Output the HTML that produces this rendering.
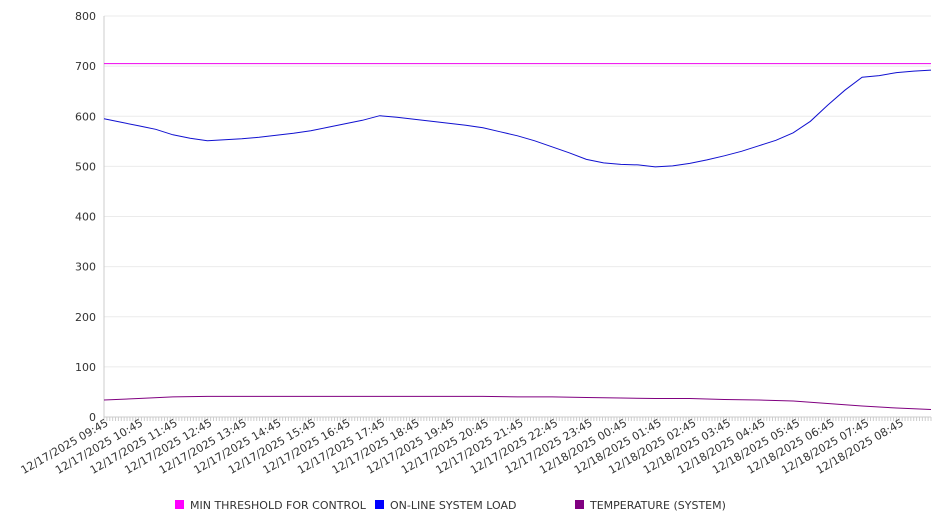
<!DOCTYPE html>
<html><head><meta charset="utf-8"><style>
body{margin:0;background:#fff;}
svg{display:block;font-family:"DejaVu Sans","Liberation Sans",sans-serif;}
</style></head><body>
<svg id="chart" width="946" height="526" xmlns="http://www.w3.org/2000/svg"></svg>
<script>
const hourLabels=["12/17/2025 09:45","12/17/2025 10:45","12/17/2025 11:45","12/17/2025 12:45","12/17/2025 13:45","12/17/2025 14:45","12/17/2025 15:45","12/17/2025 16:45","12/17/2025 17:45","12/17/2025 18:45","12/17/2025 19:45","12/17/2025 20:45","12/17/2025 21:45","12/17/2025 22:45","12/17/2025 23:45","12/18/2025 00:45","12/18/2025 01:45","12/18/2025 02:45","12/18/2025 03:45","12/18/2025 04:45","12/18/2025 05:45","12/18/2025 06:45","12/18/2025 07:45","12/18/2025 08:45"];
const yTicks=[0,100,200,300,400,500,600,700,800];
// load every 30 min
const loadValues=[595,588,581,574,563,556,551,553,555,558,562,566,571,578,585,592,601,598,594,590,586,582,577,569,561,551,539,527,514,507,504,503,499,501,506,513,521,530,541,552,567,590,622,652,678,681,687,690,692];
// temperature hourly
const tempValues=[34,37,40,41,41,41,41,41,41,41,41,41,40,40,39,38,37,37,35,34,32,27,22,18,15];
const thresholdValue=705;

const svg=document.getElementById('chart');
const NS='http://www.w3.org/2000/svg';
const X0=104,X1=931,Y0=417,Y1=16,N=287;
function x5(i){return X0+i*(X1-X0)/N;}
function yS(v){return Y0-(v/800)*(Y0-Y1);}
function mk(tag,attrs){const e=document.createElementNS(NS,tag);for(const k in attrs)e.setAttribute(k,attrs[k]);svg.appendChild(e);return e;}

yTicks.forEach(t=>{
  const g=mk('line',{x1:X0,x2:X1,y1:yS(t),y2:yS(t),stroke:t===0?'#ccc':'#ebebeb','stroke-width':1});
  
  
  const tx=mk('text',{x:96,y:yS(t)+4,'text-anchor':'end','font-size':11,fill:'#333'});
  tx.textContent=t;
  
  
});
const ax=mk('line',{x1:X0,x2:X0,y1:Y1,y2:Y0+4,stroke:'#ccc'});


for(let i=0;i<=N;i++){
  const t=mk('line',{x1:x5(i),x2:x5(i),y1:Y0,y2:Y0+4,stroke:'#ccc'});
  
  
}
hourLabels.forEach((l,i)=>{
  const x=x5(i*12)+5,y=Y0+8;
  const t=mk('text',{x:x,y:y,'text-anchor':'end','font-size':11,fill:'#333',transform:`rotate(-30 ${x} ${y})`});
  t.textContent=l;
  
  
});
function line(vals,color,name){
  const step=N/(vals.length-1);
  const pts=vals.map((v,i)=>x5(i*step).toFixed(1)+','+yS(v).toFixed(1)).join(' ');
  const p=mk('polyline',{points:pts,fill:'none',stroke:color,'stroke-width':1});
  
  
}
const th=mk('line',{x1:X0,x2:X1,y1:yS(thresholdValue),y2:yS(thresholdValue),stroke:'#ee00ee','stroke-width':1});


line(loadValues,'#1010d0','online-system-load-line');
line(tempValues,'#800080','temperature-line');

const legend=[['MIN THRESHOLD FOR CONTROL','#ff00ff',175],['ON-LINE SYSTEM LOAD','#0000ff',375],['TEMPERATURE (SYSTEM)','#800080',575]];
legend.forEach(l=>{
  const r=mk('rect',{x:l[2],y:500,width:9,height:9,fill:l[1]});
  
  
  const t=mk('text',{x:l[2]+15,y:509,'font-size':11,fill:'#333'});
  t.textContent=l[0];
  
  
});
</script>
</body></html>
